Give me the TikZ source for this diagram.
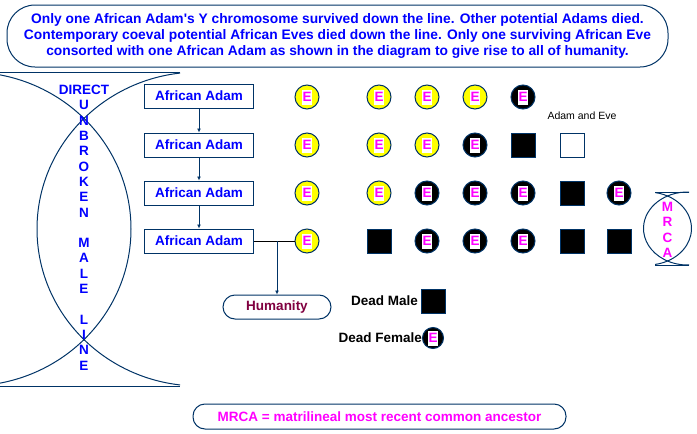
\documentclass[tikz,border=0pt]{standalone}
\usepackage{fontspec}
\setmainfont{Liberation Sans}
\usetikzlibrary{arrows.meta,positioning}

\definecolor{navy}{RGB}{0,51,102}
\definecolor{tblue}{RGB}{0,0,255}
\definecolor{wine}{RGB}{128,0,64}
\definecolor{pinkE}{RGB}{255,0,255}
\definecolor{sun}{RGB}{255,255,0}

% white tag with the magenta E
\newcommand{\ebox}{{\fboxsep=0pt\colorbox{white}{\rule[-3pt]{0pt}{15pt}\makebox[10pt]{\textcolor{pinkE}{E}}}}}

\begin{document}
\begin{tikzpicture}[
  x=1pt,
  y=-1pt,
  font=\bfseries\fontsize{13.5}{15.3}\selectfont,
  adambox/.style={draw=navy, line width=1pt, fill=white, text=tblue,
    minimum width=109pt, minimum height=24pt, inner sep=0pt},
  eve/.style={circle, draw=navy, line width=1pt, fill=sun,
    minimum size=24pt, inner sep=0pt},
  deadeve/.style={eve, fill=black},
  deadadam/.style={draw=navy, line width=1pt, fill=black,
    minimum size=24pt, inner sep=0pt},
  liveadam/.style={deadadam, fill=white},
  oval/.style={draw=navy, line width=1pt, inner sep=0pt},
  descent/.style={navy, line width=1pt, -{Latex[length=4pt,width=4pt]}}
]
\useasboundingbox (0,0) rectangle (697,434);

% heading
\node[oval, rounded corners=28pt, minimum width=661pt, minimum height=62pt,
  text=tblue, align=center, font=\bfseries\fontsize{13.8}{16}\selectfont]
  (banner) at (337.5,36)
  {Only one African Adam\textquotesingle s Y chromosome survived down the line. Other potential Adams died.\\
   Contemporary coeval potential African Eves died down the line. Only one surviving African Eve\\
   consorted with one African Adam as shown in the diagram to give rise to all of humanity.};

% direct male line
\begin{scope}
\clip (0,72) rectangle (180,386);
\draw[navy, line width=1pt] (-31,229) ellipse [x radius=162, y radius=157];
\draw[navy, line width=1pt] (199,229) ellipse [x radius=162, y radius=157];
\end{scope}
\draw[navy, line width=1pt] (0,72) -- (180,72);
\draw[navy, line width=1pt] (0,386) -- (180,386);
\node[text=tblue, align=center, inner sep=0pt, anchor=north] (maleline) at (84,85)
  {DIRECT\\U\\N\\B\\R\\O\\K\\E\\N\\[15.3pt]M\\A\\L\\E\\[15.3pt]L\\I\\N\\E};

% the Adams
\node[adambox] (a1) at (199,96) {African Adam};
\node[adambox] (a2) at (199,145) {African Adam};
\node[adambox] (a3) at (199,193) {African Adam};
\node[adambox] (a4) at (199,241) {African Adam};
\draw[descent] (a1) -- (a2);
\draw[descent] (a2) -- (a3);
\draw[descent] (a3) -- (a4);

% row 1
\node[eve] (r1c1) at (307,97) {\ebox};
\node[eve] (r1c2) at (379,97) {\ebox};
\node[eve] (r1c3) at (427,97) {\ebox};
\node[eve] (r1c4) at (475,97) {\ebox};
\node[deadeve] (r1c5) at (523,97) {\ebox};
\node[font=\mdseries\fontsize{10.5}{12}\selectfont, inner sep=0pt] (pair) at (582,116) {Adam and Eve};

% row 2
\node[eve] (r2c1) at (307,145) {\ebox};
\node[eve] (r2c2) at (379,145) {\ebox};
\node[eve] (r2c3) at (427,145) {\ebox};
\node[deadeve] (r2c4) at (475,145) {\ebox};
\node[deadadam] (r2c5) at (523,145) {};
\node[liveadam] (r2c6) at (572,145) {};

% row 3
\node[eve] (r3c1) at (307,193) {\ebox};
\node[eve] (r3c2) at (379,193) {\ebox};
\node[deadeve] (r3c3) at (427,193) {\ebox};
\node[deadeve] (r3c4) at (475,193) {\ebox};
\node[deadeve] (r3c5) at (523,193) {\ebox};
\node[deadadam] (r3c6) at (572,193) {};
\node[deadeve] (r3c7) at (619,193) {\ebox};

% row 4
\node[eve] (r4c1) at (307,241) {\ebox};
\node[deadadam] (r4c2) at (379,241) {};
\node[deadeve] (r4c3) at (427,241) {\ebox};
\node[deadeve] (r4c4) at (475,241) {\ebox};
\node[deadeve] (r4c5) at (523,241) {\ebox};
\node[deadadam] (r4c6) at (572,241) {};
\node[deadadam] (r4c7) at (619,241) {};

% the surviving couple
\node[oval, rounded corners=12pt, minimum width=108pt, minimum height=24pt, text=wine]
  (hum) at (277,307) {Humanity};
\draw[black, line width=1pt] (a4) -- (r4c1);
\coordinate (fork) at (277,241);
\draw[descent] (fork) -- (hum);

% MRCA
\draw[navy, line width=1pt] (647.5,228.5) ++(-80:44 and 36.5)
  arc[start angle=-80, end angle=80, x radius=44, y radius=36.5];
\draw[navy, line width=1pt] (687.5,228.5) ++(-88:44 and 36.5)
  arc[start angle=-88, end angle=-272, x radius=44, y radius=36.5];
\draw[navy, line width=1pt] (655,192) -- (689,192);
\draw[navy, line width=1pt] (655,265) -- (689,265);
\node[text=pinkE, align=center, inner sep=0pt, anchor=north] (mrca) at (667.5,202)
  {M\\R\\C\\A};

% key
\node[deadadam] (keymale) at (433.5,301) {};
\node[left=3pt of keymale, inner sep=0pt] (keymaletxt) {Dead Male};
\node[deadeve, minimum size=21pt] (keyfem) at (433,338) {\ebox};
\node[left=0pt of keyfem, inner sep=0pt] (keyfemtxt) {Dead Female};

\node[oval, rounded corners=12pt, minimum width=373pt, minimum height=25pt, text=pinkE]
  (note) at (379.5,416.5) {MRCA = matrilineal most recent common ancestor};
\end{tikzpicture}
\end{document}
